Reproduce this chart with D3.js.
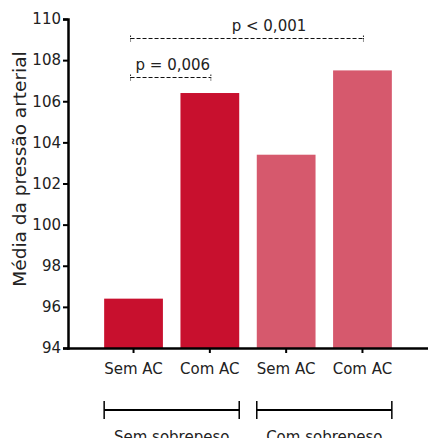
<!DOCTYPE html>
<html>
<head>
<meta charset="utf-8">
<script src="https://cdn.jsdelivr.net/npm/d3@7"></script>
<style>
  body { margin: 0; background: #fff; }
  text { font-family: "DejaVu Sans", sans-serif; fill: #222; }
</style>
</head>
<body>
<div id="chart"></div>
<script>
// data
var categories = ["Sem AC", "Com AC", "Sem AC", "Com AC"];
var groups     = ["Sem sobrepeso", "Sem sobrepeso", "Com sobrepeso", "Com sobrepeso"];
var values     = [96.4, 106.4, 103.4, 107.5];
var yTicks     = [94, 96, 98, 100, 102, 104, 106, 108, 110];
var pLabels    = ["p = 0,006", "p < 0,001"];
var pPairs     = [[0, 1], [0, 3]];
var pLevels    = [107.2, 109.1];

var darkRed  = '#c8102e';
var lightRed = '#d6596d';

var W = 428, H = 438;
var svg = d3.select("#chart").append("svg")
    .attr("width", W).attr("height", H);

var x0 = 68, yTop = 19, yBot = 348;

var y = d3.scaleLinear().domain([94, 110]).range([yBot, yTop]);
var x = d3.scaleBand().domain(d3.range(values.length))
    .range([95, 401]).paddingInner(0.23).paddingOuter(0.12);

// bars
svg.selectAll("rect.bar").data(values).enter().append("rect")
    .attr("class", "bar")
    .attr("x", function(d, i){ return x(i); })
    .attr("y", function(d){ return y(d); })
    .attr("width", x.bandwidth())
    .attr("height", function(d){ return yBot - y(d); })
    .attr("fill", function(d, i){ return i < 2 ? darkRed : lightRed; });

// y axis
var yAxis = d3.axisLeft(y).tickValues(yTicks).tickSize(5).tickPadding(2);
var gy = svg.append("g").attr("transform", "translate(" + x0 + ",0)").call(yAxis);
gy.select(".domain").attr("stroke", "#000").attr("stroke-width", 2.5);
gy.selectAll(".tick line").attr("stroke", "#000").attr("stroke-width", 2);
gy.selectAll(".tick text").style("font-size", "15px").style("font-family", "DejaVu Sans").attr("fill", "#222");

// x axis baseline + ticks
svg.append("line").attr("x1", x0 - 1).attr("x2", W).attr("y1", yBot + 0.5).attr("y2", yBot + 0.5)
    .attr("stroke", "#000").attr("stroke-width", 2.5);
svg.selectAll("line.xt").data(values).enter().append("line")
    .attr("x1", function(d, i){ return x(i) + x.bandwidth() / 2; })
    .attr("x2", function(d, i){ return x(i) + x.bandwidth() / 2; })
    .attr("y1", yBot).attr("y2", yBot + 5)
    .attr("stroke", "#000").attr("stroke-width", 2);
svg.selectAll("text.xl").data(categories).enter().append("text")
    .attr("x", function(d, i){ return x(i) + x.bandwidth() / 2; })
    .attr("y", 374)
    .attr("text-anchor", "middle")
    .style("font-size", "15px")
    .text(function(d){ return d; });

// y label
svg.append("text")
    .attr("transform", "translate(26," + 169 + ") rotate(-90)")
    .attr("text-anchor", "middle")
    .style("font-size", "18.5px")
    .text("Média da pressão arterial");

// significance brackets
pPairs.forEach(function(p, k){
    var xa = x(p[0]) + x.bandwidth() / 2 - 3;
    var xb = x(p[1]) + x.bandwidth() / 2 + 1;
    var yy = Math.round(y(pLevels[k])) + 0.5;
    var g = svg.append("g");
    g.append("line").attr("x1", xa).attr("x2", xb).attr("y1", yy).attr("y2", yy)
        .attr("stroke", "#111").attr("stroke-width", 1.2).attr("stroke-dasharray", "4,2");
    [xa, xb].forEach(function(xx){
        g.append("line").attr("x1", xx).attr("x2", xx).attr("y1", yy - 3).attr("y2", yy + 3)
            .attr("stroke", "#222").attr("stroke-width", 1).attr("stroke-dasharray", "1.5,1");
    });
    g.append("text")
        .attr("x", k == 0 ? xa + 5 : (xa + xb) / 2 + 22)
        .attr("y", yy - 8)
        .attr("text-anchor", k == 0 ? "start" : "middle")
        .style("font-size", "15px")
        .text(pLabels[k]);
});

// group brackets
var groupNames = ["Sem sobrepeso", "Com sobrepeso"];
groupNames.forEach(function(name, k){
    var idx = groups.map(function(g, i){ return g == name ? i : -1; }).filter(function(i){ return i >= 0; });
    var xa = x(idx[0]), xb = x(idx[idx.length - 1]) + x.bandwidth();
    var g = svg.append("g");
    g.append("line").attr("x1", xa).attr("x2", xb).attr("y1", 410).attr("y2", 410)
        .attr("stroke", "#000").attr("stroke-width", 2);
    [xa, xb].forEach(function(xx){
        g.append("line").attr("x1", xx).attr("x2", xx).attr("y1", 401).attr("y2", 419)
            .attr("stroke", "#000").attr("stroke-width", 1.5);
    });
    g.append("text").attr("x", (xa + xb) / 2).attr("y", 442)
        .attr("text-anchor", "middle").style("font-size", "15px").text(name);
});
</script>
</body>
</html>
